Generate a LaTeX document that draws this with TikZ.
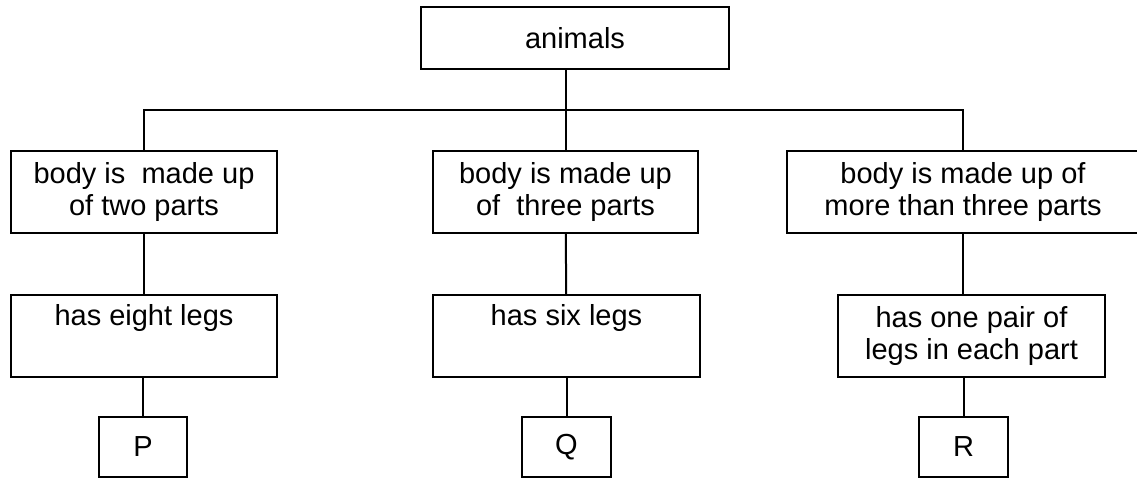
\documentclass[tikz,border=0pt]{standalone}
\usepackage{fontspec}
\setmainfont{Liberation Sans}
\begin{document}
\begin{tikzpicture}[x=0.5pt,y=-0.5pt,
  box/.style={draw, line width=1pt, align=center, inner sep=0pt,
    font=\fontsize{14.5}{16}\selectfont},
  link/.style={line width=1pt}]
\useasboundingbox (0,0) rectangle (1137,478);
\clip (0,0) rectangle (1137,478);
% Boxes
\node[box, minimum width=154pt, minimum height=31pt] (animals) at (575,38) {animals};
\node[box, minimum width=133pt, minimum height=41pt] (twoparts) at (144,192) {body is \ made up\\of two parts};
\node[box, minimum width=132.5pt, minimum height=41pt] (threeparts) at (565.5,192) {body is made up\\of \ three parts};
\node[box, minimum width=176pt, minimum height=41pt] (moreparts) at (963,192) {body is made up of\\more than three parts};
\node[box, minimum width=133pt, minimum height=41pt] (eightlegs) at (144,336) {has eight legs\\\strut};
\node[box, minimum width=133.5pt, minimum height=41pt] (sixlegs) at (566.5,336) {has six legs\\\strut};
\node[box, minimum width=133.5pt, minimum height=41pt] (pairlegs) at (971.5,336) {has one pair of\\legs in each part};
\node[box, minimum width=44pt, minimum height=30pt] (P) at (143,447) {P};
\node[box, minimum width=44.5pt, minimum height=30pt] (Q) at (566.5,447) {Q};
\node[box, minimum width=44.5pt, minimum height=30pt] (R) at (963.5,447) {R};
% Links
\coordinate (bar) at (566,110);
\draw[link] (threeparts.north |- animals.south) -- (threeparts.north);
\draw[link] (twoparts.north) |- (bar) -| (moreparts.north);
\draw[link] (twoparts) -- (eightlegs);
\draw[link] (threeparts) -- (sixlegs);
\draw[link] (moreparts.south) -- (moreparts.south |- pairlegs.north);
\draw[link] (P.north |- eightlegs.south) -- (P.north);
\draw[link] (Q.north |- sixlegs.south) -- (Q.north);
\draw[link] (R.north |- pairlegs.south) -- (R.north);
\end{tikzpicture}
\end{document}
